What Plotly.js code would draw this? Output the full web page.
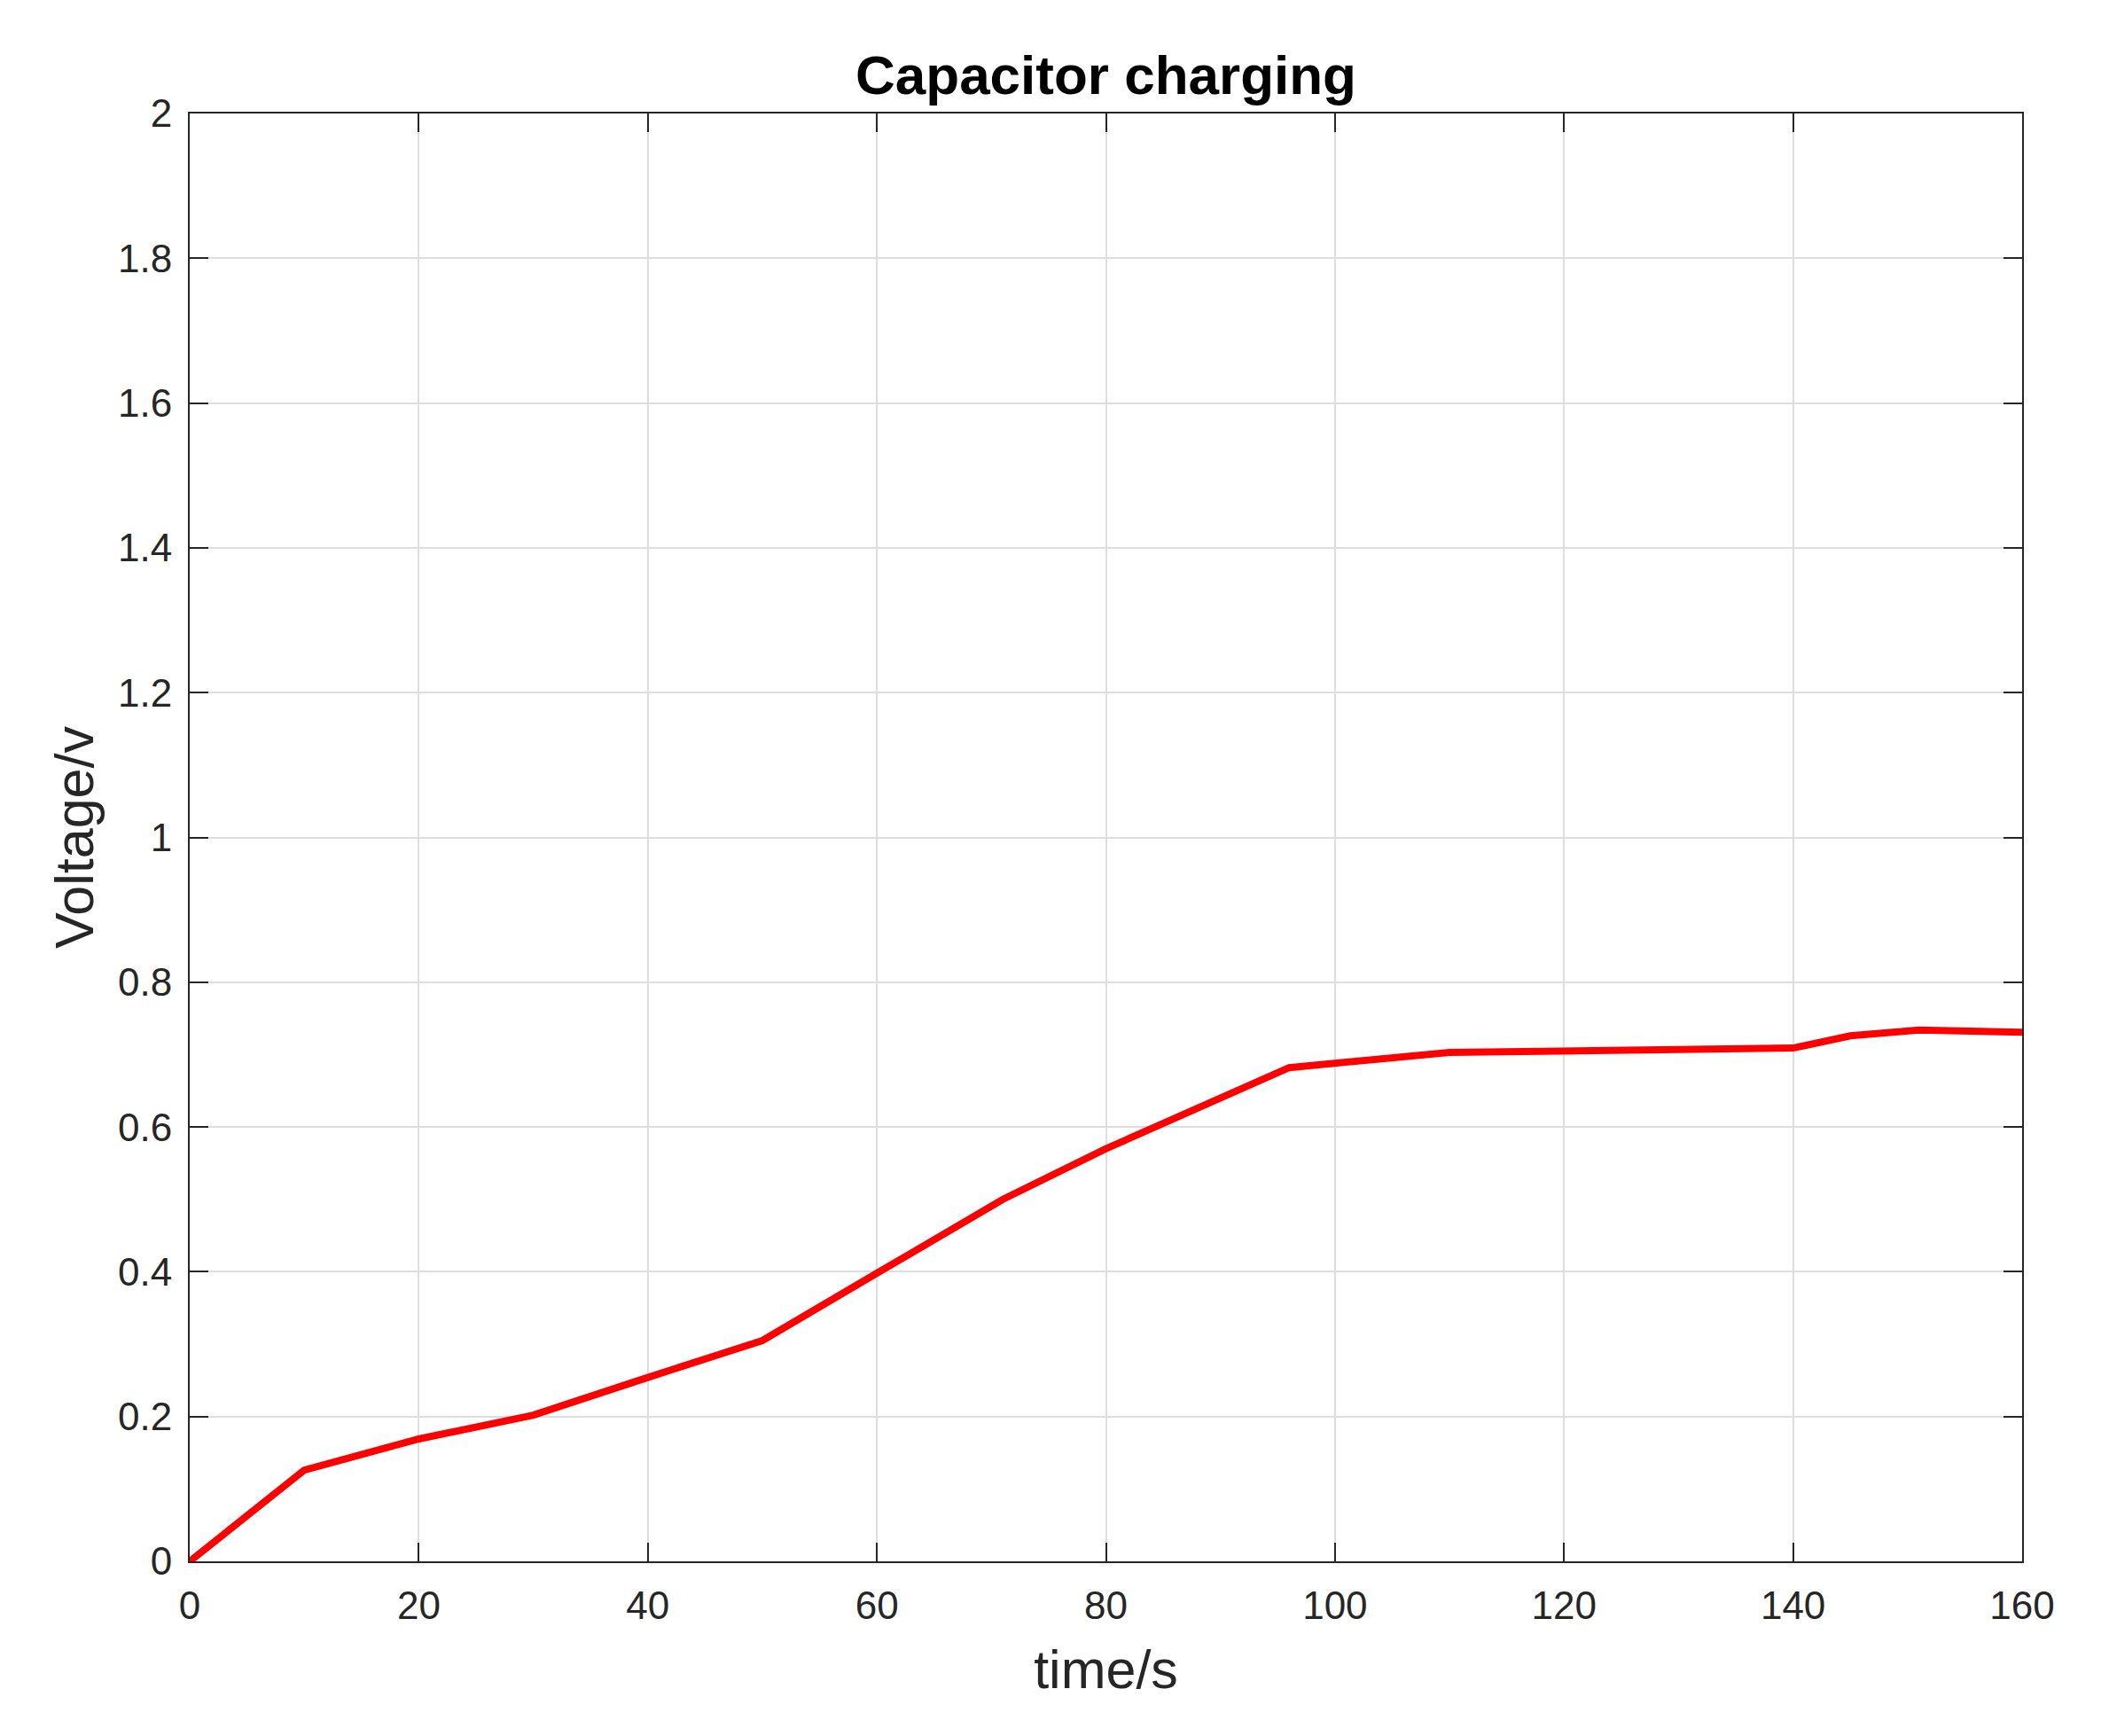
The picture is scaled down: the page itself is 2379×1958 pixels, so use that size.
<!DOCTYPE html>
<html>
<head>
<meta charset="utf-8">
<script src="https://cdn.plot.ly/plotly-3.0.1.min.js"></script>
<style>
  html, body { margin: 0; padding: 0; background: #fff; }
  #chart { width: 2379px; height: 1958px; }
</style>
</head>
<body>
<div id="chart"></div>
<script>
const timeS = [0, 10, 20, 30, 40, 50, 60, 71, 80, 96, 110, 140, 145, 151, 160];
const voltageV = [0, 0.126, 0.169, 0.202, 0.254, 0.305, 0.398, 0.500, 0.570, 0.682, 0.703, 0.709, 0.726, 0.734, 0.731];

const axisColor = "#262626";
const fontFamily = "'Liberation Sans', Arial, Helvetica, sans-serif";

const trace = {
    type: "scatter",
    mode: "lines",
    x: timeS,
    y: voltageV,
    line: { color: "#ff0000", width: 8 },
    hoverinfo: "x+y"
};

const commonAxis = {
    showline: true,
    linecolor: axisColor,
    linewidth: 2,
    mirror: "ticks",
    ticks: "inside",
    ticklen: 21,
    tickwidth: 2,
    tickcolor: axisColor,
    showgrid: true,
    gridcolor: "#dedede",
    gridwidth: 2,
    zeroline: false,
    tickfont: { family: fontFamily, size: 44, color: axisColor }
};

const layout = {
    width: 2379,
    height: 1958,
    margin: { l: 214, r: 98, t: 128, b: 197 },
    paper_bgcolor: "#ffffff",
    plot_bgcolor: "#ffffff",
    showlegend: false,
    title: {
        text: "<b>Capacitor charging</b>",
        font: { family: fontFamily, size: 62, color: "#000000" },
        x: 0.5,
        xref: "paper",
        y: 1 - 106 / 1958,
        yref: "container",
        yanchor: "bottom"
    },
    xaxis: Object.assign({}, commonAxis, {
        range: [0, 160],
        dtick: 20,
        tick0: 0,
        ticklabelstandoff: 10,
        title: {
            text: "time/s",
            font: { family: fontFamily, size: 61, color: axisColor },
            standoff: 28
        }
    }),
    yaxis: Object.assign({}, commonAxis, {
        range: [0, 2],
        dtick: 0.2,
        tick0: 0,
        ticklabelstandoff: 9,
        title: {
            text: "Voltage/v",
            font: { family: fontFamily, size: 61, color: axisColor },
            standoff: 8
        }
    })
};

Plotly.newPlot("chart", [trace], layout, { displayModeBar: false, responsive: false });
</script>
</body>
</html>
